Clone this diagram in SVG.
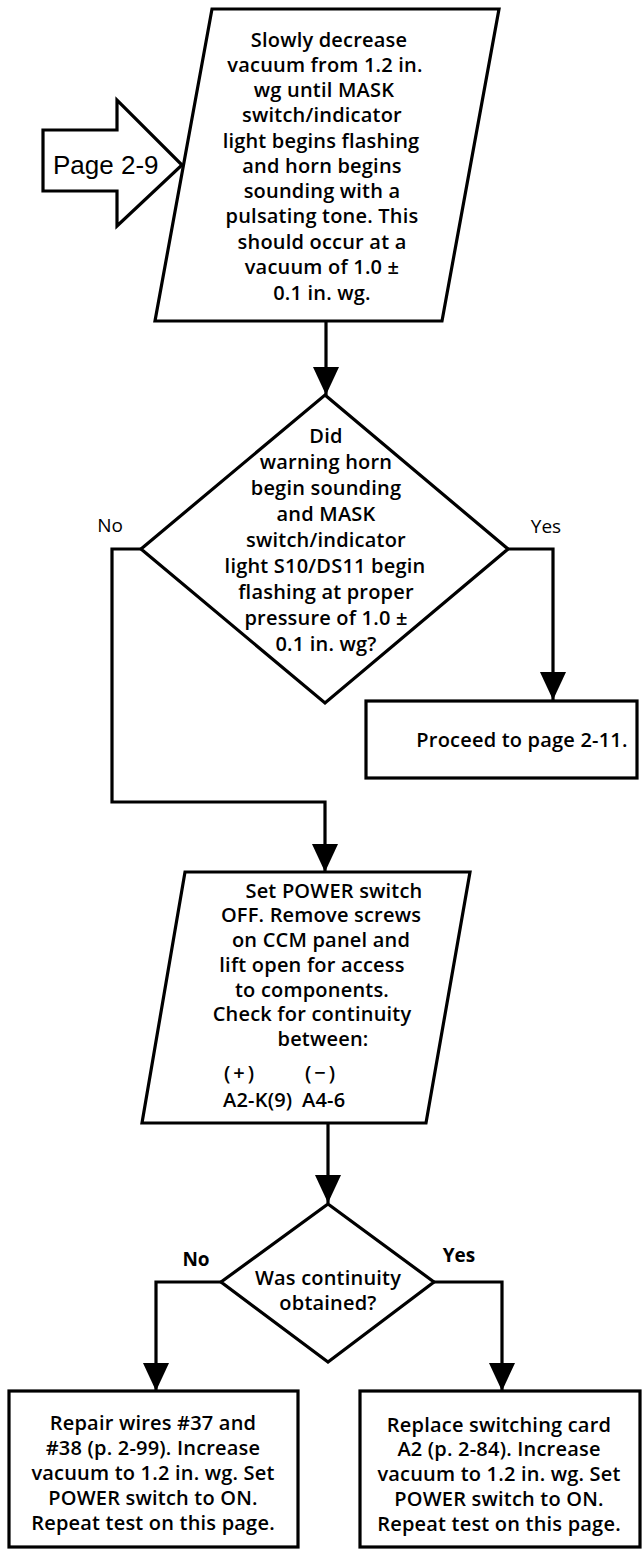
<svg xmlns="http://www.w3.org/2000/svg" width="642" height="1549" viewBox="0 0 642 1549">
<style>
.shape{fill:#fff;stroke:#000;stroke-width:3.2;stroke-linejoin:miter}
.conn{fill:none;stroke:#000;stroke-width:3.2;marker-end:url(#arr)}
.t{font-family:"Open Sans","DejaVu Sans",sans-serif;font-size:20px;font-weight:600;fill:#000;text-anchor:middle;letter-spacing:0.2px}
.lbl{font-family:"Open Sans","DejaVu Sans",sans-serif;font-size:19px;fill:#000;text-anchor:middle}
.lblb{font-family:"Open Sans","DejaVu Sans",sans-serif;font-size:19px;font-weight:700;fill:#000;text-anchor:middle}
.pg{font-family:"Liberation Sans",Arial,sans-serif;font-size:26px;fill:#000}
</style>
<defs>
<marker id="arr" viewBox="0 0 28 26" refX="28" refY="13" markerWidth="28" markerHeight="26" markerUnits="userSpaceOnUse" orient="auto">
<path d="M0,0 L28,13 L0,26 z" fill="#000"/>
</marker>
</defs>
<g id="connectors">
<path class="conn" d="M326,321 V395"/>
<path class="conn" d="M508,549 H553 V700"/>
<path class="conn" d="M141,549 H112 V802 H325 V872"/>
<path class="conn" d="M328,1123 V1203"/>
<path class="conn" d="M221,1282 H156 V1391"/>
<path class="conn" d="M434,1282 H502 V1391"/>
</g>
<g id="page-ref">
<polygon class="shape" points="43,130 117,130 117,100 182,165 117,226 117,191 43,191"/>
<text class="pg" x="53" y="174">Page 2-9</text>
</g>
<g id="step1">
<polygon class="shape" points="212,9 499,9 442,321 155,321"/>
<text class="t" x="329" y="47">Slowly decrease</text>
<text class="t" x="325" y="72">vacuum from 1.2 in.</text>
<text class="t" x="324" y="97">wg until MASK</text>
<text class="t" x="322" y="122">switch/indicator</text>
<text class="t" x="321" y="148">light begins flashing</text>
<text class="t" x="322" y="173">and horn begins</text>
<text class="t" x="322" y="198">sounding with a</text>
<text class="t" x="322" y="223">pulsating tone. This</text>
<text class="t" x="322" y="249">should occur at a</text>
<text class="t" x="322" y="274">vacuum of 1.0 ±</text>
<text class="t" x="322" y="300">0.1 in. wg.</text>
</g>
<g id="decision1">
<polygon class="shape" points="325,395 508,549 325,703 141,549"/>
<text class="t" x="326" y="443">Did</text>
<text class="t" x="326" y="469">warning horn</text>
<text class="t" x="326" y="495">begin sounding</text>
<text class="t" x="326" y="521">and MASK</text>
<text class="t" x="326" y="547">switch/indicator</text>
<text class="t" x="325" y="573">light S10/DS11 begin</text>
<text class="t" x="326" y="599">flashing at proper</text>
<text class="t" x="326" y="625">pressure of 1.0 ±</text>
<text class="t" x="326" y="651">0.1 in. wg?</text>
<text class="lbl" x="110" y="532">No</text>
<text class="lbl" x="546" y="533">Yes</text>
</g>
<g id="proceed">
<rect class="shape" x="366" y="701" width="271" height="77"/>
<text class="t" x="522" y="747">Proceed to page 2-11.</text>
</g>
<g id="step2">
<polygon class="shape" points="185,872 470,872 426,1123 142,1123"/>
<text class="t" x="334" y="898">Set POWER switch</text>
<text class="t" x="321" y="922">OFF. Remove screws</text>
<text class="t" x="321" y="947">on CCM panel and</text>
<text class="t" x="312" y="972">lift open for access</text>
<text class="t" x="312" y="997">to components.</text>
<text class="t" x="312" y="1021">Check for continuity</text>
<text class="t" x="323" y="1046">between:</text>
<text class="t" x="224" y="1080" style="text-anchor:start;letter-spacing:3px">(+)</text>
<text class="t" x="305" y="1080" style="text-anchor:start;letter-spacing:3px">(−)</text>
<text class="t" x="223" y="1107" style="text-anchor:start">A2-K(9)</text>
<text class="t" x="302" y="1107" style="text-anchor:start">A4-6</text>
</g>
<g id="decision2">
<polygon class="shape" points="328,1204 434,1282 328,1362 221,1282"/>
<text class="t" x="328" y="1285">Was continuity</text>
<text class="t" x="328" y="1310">obtained?</text>
<text class="lblb" x="196" y="1266">No</text>
<text class="lblb" x="459" y="1262">Yes</text>
</g>
<g id="repair">
<rect class="shape" x="9" y="1391" width="289" height="156"/>
<text class="t" x="153" y="1430">Repair wires #37 and</text>
<text class="t" x="153" y="1455">#38 (p. 2-99). Increase</text>
<text class="t" x="153" y="1480">vacuum to 1.2 in. wg. Set</text>
<text class="t" x="153" y="1505">POWER switch to ON.</text>
<text class="t" x="153" y="1530">Repeat test on this page.</text>
</g>
<g id="replace">
<rect class="shape" x="360" y="1391" width="280" height="156"/>
<text class="t" x="499" y="1432">Replace switching card</text>
<text class="t" x="499" y="1456">A2 (p. 2-84). Increase</text>
<text class="t" x="499" y="1481">vacuum to 1.2 in. wg. Set</text>
<text class="t" x="499" y="1506">POWER switch to ON.</text>
<text class="t" x="499" y="1531">Repeat test on this page.</text>
</g>
</svg>
